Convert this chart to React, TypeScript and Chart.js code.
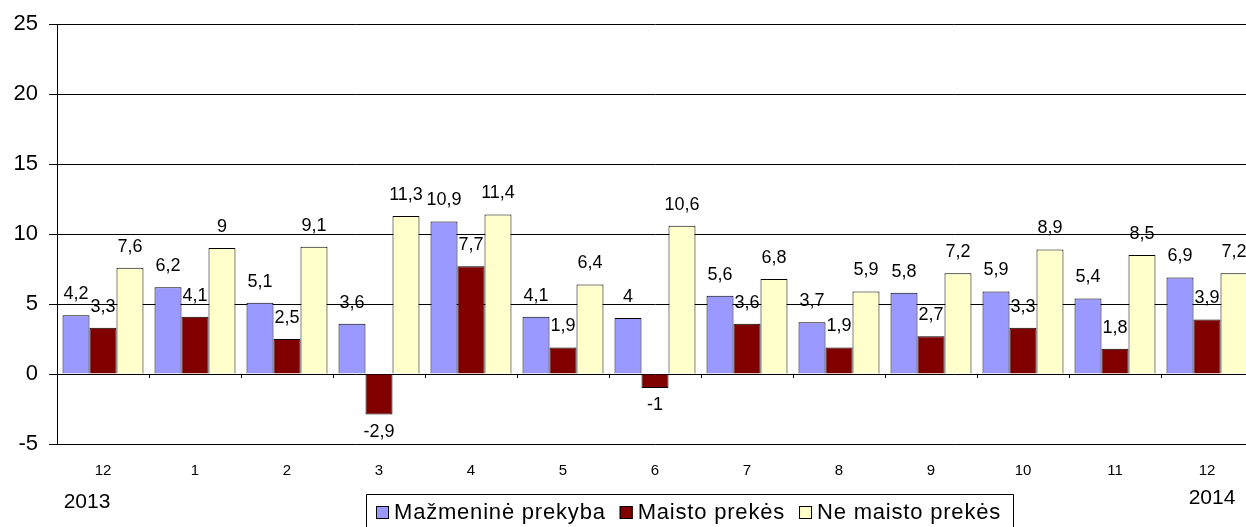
import React, { useEffect, useRef } from "react";
import { Chart, registerables } from "chart.js";

Chart.register(...registerables);

const categories = ["12", "1", "2", "3", "4", "5", "6", "7", "8", "9", "10", "11", "12"];
const seriesNames = ["Mažmeninė prekyba", "Maisto prekės", "Ne maisto prekės"];
const retail = [4.2, 6.2, 5.1, 3.6, 10.9, 4.1, 4, 5.6, 3.7, 5.8, 5.9, 5.4, 6.9];
const food = [3.3, 4.1, 2.5, -2.9, 7.7, 1.9, -1, 3.6, 1.9, 2.7, 3.3, 1.8, 3.9];
const nonFood = [7.6, 9, 9.1, 11.3, 11.4, 6.4, 10.6, 6.8, 5.9, 7.2, 8.9, 8.5, 7.2];
const yearStart = "2013";
const yearEnd = "2014";
const colors = ["#9999FF", "#800000", "#FFFFCC"];

const FONT = '"Liberation Sans", Arial, sans-serif';
const fmt = (v: number) => String(v).replace(".", ",");

const valueLabels = {
  id: "valueLabels",
  afterDatasetsDraw(chart: any) {
    const ctx = chart.ctx;
    ctx.save();
    ctx.font = `18px ${FONT}`;
    ctx.fillStyle = "#000";
    ctx.textAlign = "center";
    ctx.textBaseline = "middle";
    chart.data.datasets.forEach((ds: any, i: number) => {
      const meta = chart.getDatasetMeta(i);
      meta.data.forEach((el: any, j: number) => {
        const v = ds.data[j];
        const ty = v >= 0 ? el.y - 21 : el.y + 17;
        ctx.fillText(fmt(v), el.x, ty);
      });
    });
    ctx.restore();
  },
};

const extras = {
  id: "extras",
  afterDraw(chart: any) {
    const ctx = chart.ctx;
    const xs = chart.scales.x;
    const ys = chart.scales.y;
    const y0 = ys.getPixelForValue(0);
    ctx.save();
    // category tick marks on zero line
    ctx.strokeStyle = "#000";
    ctx.lineWidth = 1;
    for (let i = 1; i < categories.length; i++) {
      const x = Math.round((xs.getPixelForValue(i - 1) + xs.getPixelForValue(i)) / 2) + 0.5;
      ctx.beginPath();
      ctx.moveTo(x, y0);
      ctx.lineTo(x, y0 + 4);
      ctx.stroke();
    }
    // year labels
    ctx.fillStyle = "#000";
    ctx.font = `21px ${FONT}`;
    ctx.textAlign = "center";
    ctx.textBaseline = "middle";
    ctx.fillText(yearStart, xs.getPixelForValue(0) - 16, 502);
    ctx.fillText(yearEnd, xs.getPixelForValue(categories.length - 1) + 5, 498);

    // legend
    ctx.font = `22px ${FONT}`;
    (ctx as any).letterSpacing = "0.8px";
    ctx.textAlign = "left";
    const box = 13;
    const gapBoxText = 5;
    const gapItems = 14;
    const widths = seriesNames.map((n) => ctx.measureText(n).width);
    const total =
      widths.reduce((a, b) => a + b, 0) + seriesNames.length * (box + gapBoxText) + gapItems * (seriesNames.length - 1);
    const padL = 10;
    const padR = 12;
    const cx = 690;
    const left = Math.round(cx - (total + padL + padR) / 2);
    const right = Math.round(left + total + padL + padR);
    const top = 494;
    ctx.strokeStyle = "#000";
    ctx.lineWidth = 1;
    ctx.beginPath();
    ctx.moveTo(left + 0.5, 540);
    ctx.lineTo(left + 0.5, top + 0.5);
    ctx.lineTo(right + 0.5, top + 0.5);
    ctx.lineTo(right + 0.5, 540);
    ctx.stroke();
    let x = left + padL;
    seriesNames.forEach((n, i) => {
      ctx.fillStyle = colors[i];
      ctx.fillRect(x, 506, box, box);
      ctx.strokeStyle = "#000";
      ctx.strokeRect(x + 0.5, 506.5, box - 1, box - 1);
      ctx.fillStyle = "#000";
      ctx.fillText(n, x + box + gapBoxText, 513);
      x += box + gapBoxText + widths[i] + gapItems;
    });
    ctx.restore();
  },
};

export default function App() {
  const ref = useRef<HTMLCanvasElement | null>(null);
  useEffect(() => {
    if (!ref.current) return;
    Chart.defaults.font.family = FONT;
    Chart.defaults.color = "#000";
    const data = [retail, food, nonFood];
    const chart = new Chart(ref.current, {
      type: "bar",
      data: {
        labels: categories,
        datasets: seriesNames.map((name, i) => ({
          label: name,
          data: data[i],
          backgroundColor: colors[i],
          borderColor: "#000",
          borderWidth: 1,
          categoryPercentage: 0.88,
          barPercentage: 1,
        })),
      },
      options: {
        responsive: false,
        animation: false,
        layout: { padding: { top: 24, right: 1, left: 0, bottom: 0 } },
        plugins: { legend: { display: false }, tooltip: { enabled: false } },
        scales: {
          x: {
            grid: { display: false },
            border: { display: false },
            ticks: { font: { size: 15 }, color: "#000", padding: 10 },
            afterFit: (s: any) => {
              s.height = 83;
            },
          },
          y: {
            min: -5,
            max: 25,
            ticks: { stepSize: 5, font: { size: 22 }, color: "#000", padding: 11 },
            grid: { color: "#000", tickLength: 8, lineWidth: 1 },
            border: { color: "#000" },
            afterFit: (s: any) => {
              s.width = 57;
            },
          },
        },
      },
      plugins: [valueLabels, extras],
    });
    return () => chart.destroy();
  }, []);
  return (
    <div
      style={{
        position: "fixed",
        left: 0,
        top: 0,
        width: 1246,
        height: 527,
        overflow: "hidden",
        background: "#fff",
      }}
    >
      <canvas ref={ref} width={1254} height={527} style={{ width: 1254, height: 527, display: "block" }} />
    </div>
  );
}
